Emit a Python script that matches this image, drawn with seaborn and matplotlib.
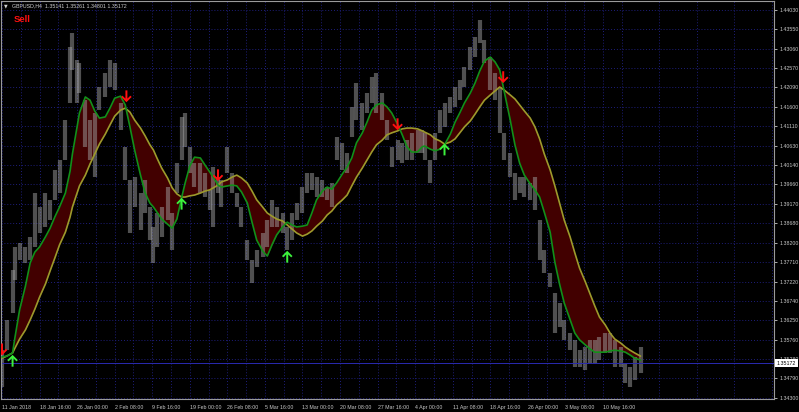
import numpy as np
import pandas as pd
import matplotlib
matplotlib.use("Agg")
import matplotlib.pyplot as plt
from matplotlib.path import Path
import seaborn as sns

# GBPUSD H4 - price bars sampled along the chart (bar number, high, low)
bar = [0, 4, 9, 11, 15, 20, 24, 28, 32, 37, 41, 45, 49, 54, 58, 60, 64, 66, 71, 75,
       79, 83, 88, 92, 96, 101, 105, 109, 113, 118, 122, 126, 129, 132, 136, 141, 145, 149, 153, 156,
       160, 164, 169, 173, 177, 180, 184, 187, 192, 196, 200, 204, 209, 213, 217, 222, 226, 230, 234, 239,
       243, 247, 251, 256, 260, 264, 268, 273, 277, 281, 285, 290, 294, 298, 302, 307, 311, 315, 319, 324,
       328, 332, 337, 341, 345, 349, 354, 358, 360, 365, 369, 373, 377, 382, 386, 390, 394, 399, 403, 407,
       411, 416, 420, 424, 428, 433, 437, 441, 445, 450, 454, 458, 462, 467, 471, 475, 479, 484, 488, 492,
       497, 501, 505, 509, 514, 518, 522, 527, 531, 535, 539, 544]

high = [1.3550, 1.3626, 1.3751, 1.3809, 1.3819, 1.3809, 1.3834, 1.3944, 1.3909, 1.3944,
        1.3927, 1.4002, 1.4027, 1.4127, 1.4310, 1.4345, 1.4278, 1.4270, 1.4177, 1.4127,
        1.4145, 1.4210, 1.4245, 1.4278, 1.4270, 1.4170, 1.4060, 1.3977, 1.3984, 1.3944,
        1.3977, 1.3909, 1.3859, 1.3894, 1.3909, 1.3959, 1.3894, 1.4019, 1.4135, 1.4145,
        1.4060, 1.4019, 1.4019, 1.3994, 1.3952, 1.4009, 1.3984, 1.3977, 1.4060, 1.3994,
        1.3944, 1.3909, 1.3826, 1.3776, 1.3801, 1.3844, 1.3876, 1.3927, 1.3909, 1.3894,
        1.3859, 1.3894, 1.3919, 1.3959, 1.3994, 1.3994, 1.3984, 1.3977, 1.3959, 1.3969,
        1.4085, 1.4070, 1.4044, 1.4160, 1.4220, 1.4170, 1.4195, 1.4235, 1.4245, 1.4195,
        1.4127, 1.4060, 1.4077, 1.4070, 1.4077, 1.4095, 1.4102, 1.4102, 1.4095, 1.4027,
        1.4095, 1.4152, 1.4170, 1.4185, 1.4210, 1.4228, 1.4260, 1.4310, 1.4335, 1.4378,
        1.4328, 1.4285, 1.4245, 1.4210, 1.4095, 1.4044, 1.3994, 1.3984, 1.3984, 1.3969,
        1.3984, 1.3876, 1.3801, 1.3744, 1.3693, 1.3668, 1.3626, 1.3593, 1.3576, 1.3550,
        1.3558, 1.3576, 1.3576, 1.3583, 1.3593, 1.3593, 1.3576, 1.3558, 1.3518, 1.3508,
        1.3533, 1.3558]

low = [1.3458, 1.3550, 1.3643, 1.3726, 1.3776, 1.3769, 1.3776, 1.3809, 1.3844, 1.3859,
       1.3876, 1.3927, 1.3944, 1.4027, 1.4170, 1.4253, 1.4170, 1.4195, 1.4060, 1.4027,
       1.3984, 1.4152, 1.4185, 1.4210, 1.4202, 1.4102, 1.3977, 1.3844, 1.3909, 1.3851,
       1.3894, 1.3826, 1.3769, 1.3809, 1.3834, 1.3876, 1.3801, 1.3944, 1.4027, 1.4060,
       1.3994, 1.3959, 1.3944, 1.3934, 1.3902, 1.3859, 1.3944, 1.3909, 1.3994, 1.3944,
       1.3909, 1.3859, 1.3776, 1.3718, 1.3759, 1.3784, 1.3809, 1.3859, 1.3859, 1.3844,
       1.3801, 1.3826, 1.3876, 1.3894, 1.3944, 1.3952, 1.3934, 1.3934, 1.3927, 1.3909,
       1.4027, 1.4002, 1.3994, 1.4085, 1.4127, 1.4102, 1.4145, 1.4170, 1.4145, 1.4127,
       1.4077, 1.4009, 1.4027, 1.4019, 1.4027, 1.4027, 1.4044, 1.4044, 1.4027, 1.3969,
       1.4027, 1.4095, 1.4110, 1.4145, 1.4160, 1.4177, 1.4210, 1.4253, 1.4285, 1.4320,
       1.4270, 1.4202, 1.4177, 1.4095, 1.4027, 1.3984, 1.3927, 1.3944, 1.3934, 1.3927,
       1.3902, 1.3776, 1.3744, 1.3708, 1.3593, 1.3608, 1.3576, 1.3550, 1.3508, 1.3508,
       1.3500, 1.3518, 1.3518, 1.3525, 1.3543, 1.3543, 1.3508, 1.3508, 1.3468, 1.3458,
       1.3475, 1.3493]

# fast (green) and slow (olive) moving averages at the same bars
fast_ma = [1.3533, 1.3535, 1.3543, 1.3581, 1.3651, 1.3711, 1.3769, 1.3796, 1.3809, 1.3834,
           1.3856, 1.3884, 1.3909, 1.3944, 1.3999, 1.4042, 1.4110, 1.4145, 1.4185, 1.4177,
           1.4150, 1.4132, 1.4135, 1.4157, 1.4182, 1.4187, 1.4165, 1.4110, 1.4052, 1.3989,
           1.3944, 1.3919, 1.3909, 1.3896, 1.3879, 1.3866, 1.3856, 1.3879, 1.3932, 1.3969,
           1.4012, 1.4034, 1.4032, 1.4014, 1.3997, 1.3984, 1.3964, 1.3959, 1.3962, 1.3964,
           1.3962, 1.3947, 1.3919, 1.3871, 1.3826, 1.3799, 1.3786, 1.3814, 1.3839, 1.3859,
           1.3871, 1.3864, 1.3859, 1.3861, 1.3864, 1.3894, 1.3927, 1.3949, 1.3959, 1.3954,
           1.3969, 1.3992, 1.4009, 1.4032, 1.4070, 1.4095, 1.4122, 1.4152, 1.4165, 1.4170,
           1.4160, 1.4145, 1.4117, 1.4090, 1.4060, 1.4047, 1.4047, 1.4060, 1.4062, 1.4054,
           1.4050, 1.4054, 1.4065, 1.4092, 1.4122, 1.4145, 1.4170, 1.4195, 1.4220, 1.4250,
           1.4275, 1.4285, 1.4273, 1.4253, 1.4197, 1.4127, 1.4065, 1.4019, 1.3989, 1.3967,
           1.3952, 1.3934, 1.3896, 1.3846, 1.3771, 1.3716, 1.3668, 1.3626, 1.3593, 1.3576,
           1.3563, 1.3553, 1.3545, 1.3545, 1.3545, 1.3548, 1.3550, 1.3548, 1.3545, 1.3538,
           1.3530, 1.3525]

slow_ma = [1.3530, 1.3535, 1.3543, 1.3555, 1.3578, 1.3601, 1.3626, 1.3653, 1.3683, 1.3716,
           1.3749, 1.3781, 1.3814, 1.3846, 1.3884, 1.3909, 1.3944, 1.3962, 1.3989, 1.4017,
           1.4042, 1.4067, 1.4092, 1.4115, 1.4137, 1.4152, 1.4157, 1.4147, 1.4127, 1.4107,
           1.4087, 1.4065, 1.4052, 1.4032, 1.4007, 1.3982, 1.3957, 1.3942, 1.3934, 1.3934,
           1.3937, 1.3939, 1.3944, 1.3949, 1.3952, 1.3957, 1.3964, 1.3972, 1.3977, 1.3984,
           1.3989, 1.3982, 1.3969, 1.3949, 1.3927, 1.3909, 1.3894, 1.3886, 1.3879, 1.3874,
           1.3864, 1.3854, 1.3844, 1.3836, 1.3841, 1.3849, 1.3861, 1.3874, 1.3889, 1.3899,
           1.3914, 1.3927, 1.3939, 1.3962, 1.3984, 1.4007, 1.4027, 1.4047, 1.4065, 1.4077,
           1.4090, 1.4095, 1.4100, 1.4105, 1.4107, 1.4107, 1.4105, 1.4100, 1.4097, 1.4090,
           1.4080, 1.4075, 1.4067, 1.4072, 1.4080, 1.4095, 1.4110, 1.4125, 1.4142, 1.4160,
           1.4177, 1.4190, 1.4200, 1.4210, 1.4202, 1.4190, 1.4180, 1.4165, 1.4150, 1.4132,
           1.4110, 1.4080, 1.4042, 1.4002, 1.3962, 1.3919, 1.3876, 1.3834, 1.3794, 1.3756,
           1.3721, 1.3691, 1.3661, 1.3633, 1.3613, 1.3593, 1.3578, 1.3568, 1.3558, 1.3550,
           1.3543, 1.3535]

# signal arrows
sell_bar = [0, 106, 184, 337, 427]
sell_price = [1.3550, 1.4185, 1.3987, 1.4115, 1.4233]
buy_bar = [9, 153, 243, 377]
buy_price = [1.3525, 1.3919, 1.3786, 1.4055]

date_labels = ["11 Jan 2018", "18 Jan 16:00", "26 Jan 00:00", "2 Feb 08:00", "9 Feb 16:00",
               "19 Feb 00:00", "26 Feb 08:00", "5 Mar 16:00", "13 Mar 00:00", "20 Mar 08:00",
               "27 Mar 16:00", "4 Apr 00:00", "11 Apr 08:00", "18 Apr 16:00", "26 Apr 00:00",
               "3 May 08:00", "10 May 16:00"]
price_ticks = [1.34300, 1.34790, 1.35280, 1.35760, 1.36250, 1.36740, 1.37220, 1.37710,
               1.38200, 1.38680, 1.39170, 1.39660, 1.40140, 1.40630, 1.41110, 1.41600,
               1.42090, 1.42570, 1.43060, 1.43550, 1.44030]
last_price = 1.35172

df = pd.DataFrame({"bar": bar, "high": high, "low": low, "fast": fast_ma, "slow": slow_ma})

sns.set_theme(style="dark", rc={"axes.facecolor": "black", "figure.facecolor": "black"})
plt.rcParams["font.family"] = ["Liberation Sans", "DejaVu Sans"]

fs = 3.8  # small terminal font

fig = plt.figure(figsize=(7.99, 4.12), dpi=100)
ax = fig.add_axes([1 / 799, 13 / 412, 773 / 799, 398 / 412])
ax.set_facecolor("black")

grid_c = "#1e1e7a"
ax.set_xlim(-0.85, 657.7)
ax.set_ylim(1.34275, 1.44257)
ax.set_xticks([32 * i for i in range(len(date_labels))])
ax.set_xticks([16 + 32 * i for i in range(21)], minor=True)
ax.set_xticklabels(date_labels)
ax.set_yticks(price_ticks)
ax.set_yticklabels([f"{p:.5f}" for p in price_ticks])
ax.yaxis.tick_right()
ax.grid(True, which="both", color=grid_c, linestyle=(0, (1, 2)), linewidth=0.7)
ax.tick_params(axis="both", which="major", colors="#c8c8c8", labelsize=fs,
               length=2.5, width=0.6, pad=1.5)
ax.tick_params(axis="x", which="minor", length=0)
for lab in ax.get_xticklabels():
    lab.set_horizontalalignment("left")
for s in ax.spines.values():
    s.set_color("#9a9a9a")
    s.set_linewidth(0.8)

# band between the two averages
ax.fill_between(df["bar"], df["fast"], df["slow"], color="#420000", lw=0, zorder=1)

# price bars
ax.vlines(df["bar"], df["low"], df["high"], color="#a0a0a0", alpha=0.5, lw=3.0, zorder=2)

sns.lineplot(data=df, x="bar", y="slow", color="#9c9a2c", lw=1.2, ax=ax, zorder=3)
sns.lineplot(data=df, x="bar", y="fast", color="#12901a", lw=1.2, ax=ax, zorder=4)
ax.set_xlabel("")
ax.set_ylabel("")

# bid line
ax.axhline(last_price, color="#2a2ab0", lw=0.7, zorder=2)

# arrows
down = Path([(-0.15, 1.0), (0.15, 1.0), (0.15, -0.25), (0.6, 0.2), (0.8, 0.0), (0.0, -0.8),
             (-0.8, 0.0), (-0.6, 0.2), (-0.15, -0.25), (-0.15, 1.0)],
            [Path.MOVETO] + [Path.LINETO] * 8 + [Path.CLOSEPOLY])
up = Path(down.vertices * np.array([1, -1]), down.codes)
sns.scatterplot(x=sell_bar, y=sell_price, marker=down, s=90, color="#ff1010",
                edgecolor="none", ax=ax, zorder=5)
sns.scatterplot(x=buy_bar, y=buy_price, marker=up, s=90, color="#3cf03c",
                edgecolor="none", ax=ax, zorder=5)

# current price box
ax.annotate(f"{last_price:.5f}", xy=(1, last_price), xycoords=("axes fraction", "data"),
            xytext=(2.0, 0), textcoords="offset points", va="center", ha="left",
            fontsize=fs, color="black", zorder=10, annotation_clip=False,
            bbox=dict(boxstyle="square,pad=0.3", fc="white", ec="none"))

fig.text(4 / 799, 1 - 6 / 412, "\u25bc", color="#d0d0d0", fontsize=3.4, va="center",
         family=["DejaVu Sans"])
fig.text(12 / 799, 1 - 6 / 412, "GBPUSD,H4  1.35141 1.35261 1.34801 1.35172",
         color="#d0d0d0", fontsize=fs, va="center")
fig.text(14 / 799, 1 - 19 / 412, "Sell", color="#ff1010", fontsize=6.8,
         fontweight="bold", va="center")

fig.savefig("out.png", dpi=100, facecolor="black")
